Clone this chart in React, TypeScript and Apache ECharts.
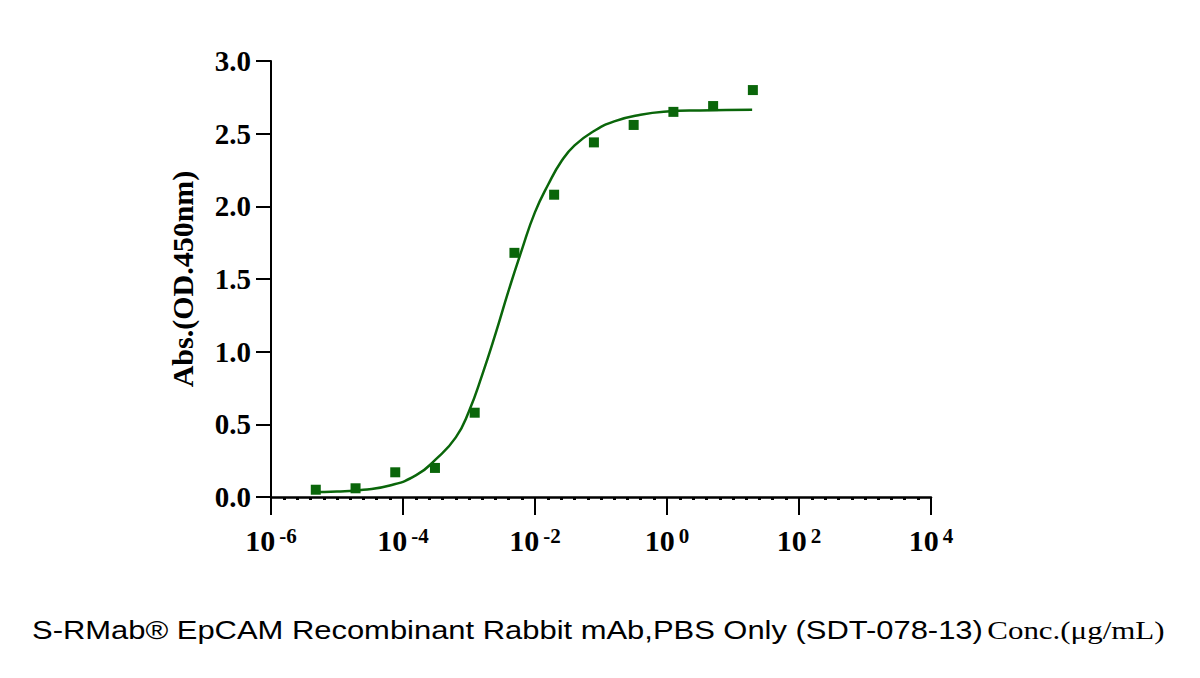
import React, { useEffect, useRef } from 'react';
import * as echarts from 'echarts';

// Measured points: concentration (µg/mL) and absorbance (OD 450nm)
const concentrations = [0.00000477, 0.0000191, 0.0000763, 0.000305, 0.00122, 0.00488, 0.0195, 0.0781, 0.3125, 1.25, 5, 20];
const absorbance = [0.05, 0.06, 0.17, 0.2, 0.58, 1.68, 2.08, 2.44, 2.56, 2.65, 2.69, 2.8];

// Fitted curve: log10(concentration) and absorbance
const fitLogConc = [-5.38, -5.0, -4.6, -4.2, -3.8, -3.5, -3.2, -3.0, -2.8, -2.6, -2.4, -2.2, -2.0, -1.8, -1.6, -1.4, -1.1, -0.8, -0.4, 0.0, 0.5, 1.29];
const fitAbs = [0.034, 0.038, 0.05, 0.079, 0.15, 0.26, 0.41, 0.59, 0.84, 1.12, 1.42, 1.7, 1.96, 2.15, 2.31, 2.42, 2.52, 2.585, 2.63, 2.652, 2.66, 2.665];

const xExponentMin = -6;
const xExponentMax = 4;
const xExponentStep = 2;
const yMin = 0;
const yMax = 3;
const yStep = 0.5;

const yAxisTitle = 'Abs.(OD.450nm)';
const captionSans = 'S-RMab® EpCAM Recombinant Rabbit mAb,PBS Only (SDT-078-13)';
const captionSerif = 'Conc.(μg/mL)';

const GREEN = '#0a660a';
const SERIF = '"Liberation Serif", "Times New Roman", serif';
const SANS = '"Liberation Sans", Arial, sans-serif';

export default function App() {
  const ref = useRef<HTMLDivElement>(null);

  useEffect(() => {
    document.body.style.margin = '0';
    if (!ref.current) return;
    const chart = echarts.init(ref.current, null, { renderer: 'svg' });

    const points = concentrations.map((c, i) => [Math.log10(c), absorbance[i]]);
    const fit = fitLogConc.map((x, i) => [x, fitAbs[i]]);

    chart.setOption({
      animation: false,
      backgroundColor: '#ffffff',
      grid: { left: 271, right: 269, top: 61, bottom: 181 },
      xAxis: {
        type: 'value',
        min: xExponentMin,
        max: xExponentMax,
        interval: xExponentStep,
        axisLine: { show: true, onZero: false, lineStyle: { color: '#000', width: 2.5 } },
        axisTick: { show: true, length: 18, lineStyle: { color: '#000', width: 2 } },
        minorTick: { show: true, splitNumber: 10, length: 3, lineStyle: { color: '#000', width: 3 } },
        splitLine: { show: false },
        axisLabel: {
          margin: 28,
          formatter: (v: number) => `{b|10}{s|${v}}`,
          rich: {
            b: { fontFamily: SERIF, fontWeight: 'bold', fontSize: 30, color: '#000', lineHeight: 30 },
            s: { fontFamily: SERIF, fontWeight: 'bold', fontSize: 21, color: '#000', verticalAlign: 'top', lineHeight: 21, padding: [0, 0, 0, 4] },
          },
        },
      },
      yAxis: {
        type: 'value',
        min: yMin,
        max: yMax,
        interval: yStep,
        name: yAxisTitle,
        nameLocation: 'middle',
        nameGap: 74,
        nameTextStyle: { fontFamily: SERIF, fontWeight: 'bold', fontSize: 30, color: '#000' },
        axisLine: { show: true, onZero: false, lineStyle: { color: '#000', width: 2 } },
        axisTick: { show: true, length: 15, lineStyle: { color: '#000', width: 2 } },
        splitLine: { show: false },
        axisLabel: {
          margin: 20,
          formatter: (v: number) => v.toFixed(1),
          fontFamily: SERIF,
          fontWeight: 'bold',
          fontSize: 29,
          color: '#000',
        },
      },
      graphic: [
        {
          type: 'text',
          x: 32,
          y: 630,
          scaleX: 1.19,
          style: {
            text: `{a|${captionSans}} {b|${captionSerif}}`,
            verticalAlign: 'middle',
            rich: {
              a: { fontFamily: SANS, fontSize: 26, color: '#000' },
              b: { fontFamily: SERIF, fontSize: 26, color: '#000' },
            },
          },
        },
      ],
      series: [
        {
          type: 'line',
          data: fit,
          smooth: true,
          showSymbol: false,
          symbol: 'none',
          lineStyle: { color: GREEN, width: 2.5 },
          z: 2,
        },
        {
          type: 'scatter',
          data: points,
          symbol: 'rect',
          symbolSize: 10,
          itemStyle: { color: GREEN, opacity: 1 },
          z: 3,
        },
      ],
    });

    return () => chart.dispose();
  }, []);

  return <div ref={ref} style={{ width: 1200, height: 678 }} />;
}
